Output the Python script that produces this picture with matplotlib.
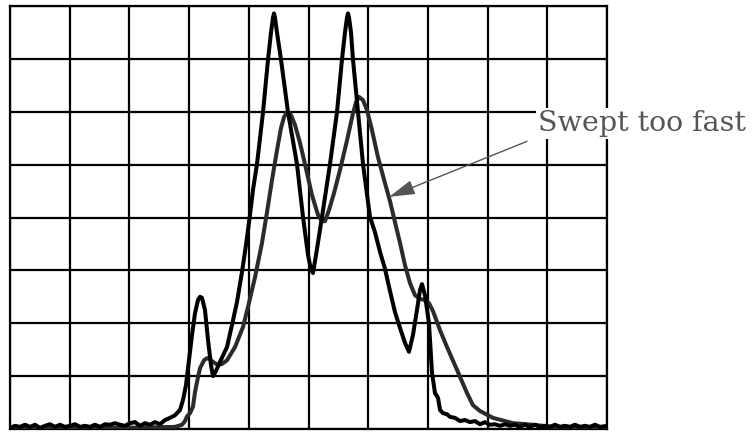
import matplotlib
matplotlib.use("Agg")
import matplotlib.pyplot as plt

# Graticule: 10 horizontal divisions, 8 vertical divisions
n_xdiv = 10
n_ydiv = 8

# Normal sweep trace (black)
normal_x = [0.000, 0.084, 0.168, 0.251, 0.335, 0.419, 0.503, 0.586, 0.670, 0.754,
            0.838, 0.921, 1.005, 1.089, 1.173, 1.256, 1.340, 1.424, 1.508, 1.591,
            1.675, 1.759, 1.843, 1.926, 2.010, 2.094, 2.178, 2.261, 2.345, 2.429,
            2.513, 2.596, 2.680, 2.764, 2.848, 2.898, 2.948, 2.998, 3.049, 3.099,
            3.149, 3.183, 3.216, 3.266, 3.317, 3.367, 3.400, 3.451, 3.518, 3.635,
            3.719, 3.802, 3.886, 3.953, 4.020, 4.070, 4.137, 4.238, 4.322, 4.372,
            4.405, 4.422, 4.439, 4.472, 4.539, 4.657, 4.807, 4.908, 4.992, 5.042,
            5.075, 5.126, 5.226, 5.360, 5.477, 5.561, 5.611, 5.645, 5.662, 5.679,
            5.712, 5.745, 5.829, 5.913, 6.030, 6.114, 6.198, 6.281, 6.365,
            6.449, 6.533, 6.616, 6.683, 6.750, 6.817, 6.868, 6.901, 6.951, 7.018,
            7.069, 7.119, 7.169, 7.203, 7.253, 7.320, 7.370, 7.454, 7.538, 7.621,
            7.705, 7.789, 7.873, 7.956, 8.040, 8.124, 8.208, 8.291, 8.375, 8.459,
            8.543, 8.626, 8.710, 8.794, 8.878, 8.961, 9.045, 9.129, 9.213, 9.296,
            9.380, 9.464, 9.548, 9.631, 9.715, 9.799, 9.883, 10.000]
normal_y = [0.02, 0.06, 0.04, 0.08, 0.04, 0.08, 0.02, 0.06, 0.09, 0.04,
            0.08, 0.04, 0.06, 0.09, 0.04, 0.06, 0.04, 0.08, 0.04, 0.09,
            0.08, 0.11, 0.08, 0.06, 0.11, 0.13, 0.06, 0.11, 0.08, 0.13,
            0.09, 0.17, 0.21, 0.26, 0.36, 0.55, 0.83, 1.30, 1.78, 2.19,
            2.44, 2.50, 2.48, 2.25, 1.68, 1.21, 1.00, 1.10, 1.27, 1.55,
            1.97, 2.40, 2.97, 3.48, 4.05, 4.52, 5.01, 5.99, 6.99, 7.50,
            7.78, 7.86, 7.78, 7.50, 6.99, 5.99, 5.01, 4.01, 3.29, 3.01,
            2.95, 3.29, 4.01, 5.01, 5.99, 6.99, 7.50, 7.78, 7.86, 7.78,
            7.50, 6.99, 5.99, 5.01, 4.01, 3.72, 3.35, 3.03, 2.61,
            2.21, 1.91, 1.63, 1.46, 1.78, 2.25, 2.63, 2.74, 2.53, 2.00,
            1.06, 0.68, 0.59, 0.36, 0.30, 0.28, 0.23, 0.21, 0.15, 0.17,
            0.13, 0.15, 0.09, 0.13, 0.08, 0.09, 0.06, 0.09, 0.06, 0.08,
            0.04, 0.08, 0.04, 0.08, 0.04, 0.06, 0.04, 0.08, 0.04, 0.06,
            0.04, 0.08, 0.04, 0.06, 0.04, 0.08, 0.04, 0.06]

# Swept-too-fast trace (dark gray)
fast_x = [0.000, 1.508, 2.345, 2.764, 2.881, 2.931, 2.965, 3.015, 3.065, 3.099,
          3.149, 3.183, 3.250, 3.300, 3.350, 3.400, 3.484, 3.551, 3.635, 3.769,
          3.903, 3.987, 4.104, 4.221, 4.305, 4.389, 4.472, 4.539, 4.590, 4.640,
          4.707, 4.774, 4.858, 4.941, 5.059, 5.159, 5.226, 5.276, 5.343, 5.427,
          5.528, 5.645, 5.745, 5.796, 5.846, 5.913, 5.980, 6.064, 6.164, 6.281,
          6.365, 6.449, 6.533, 6.616, 6.700, 6.784, 6.868, 6.951, 7.018, 7.085,
          7.203, 7.320, 7.487, 7.655, 7.755, 7.873, 8.090, 8.425, 8.760, 9.095,
          9.548, 10.000]
fast_y = [0.02, 0.02, 0.03, 0.04, 0.08, 0.15, 0.24, 0.30, 0.42, 0.70,
          0.98, 1.15, 1.30, 1.34, 1.32, 1.27, 1.21, 1.23, 1.30, 1.55,
          1.93, 2.31, 2.87, 3.52, 4.10, 4.71, 5.27, 5.69, 5.90, 5.99,
          5.94, 5.75, 5.41, 5.01, 4.42, 4.05, 3.93, 3.93, 4.14, 4.46,
          4.90, 5.46, 5.97, 6.18, 6.28, 6.22, 6.03, 5.65, 5.14, 4.65,
          4.31, 3.91, 3.52, 3.10, 2.76, 2.53, 2.46, 2.44, 2.38, 2.23,
          1.87, 1.55, 1.12, 0.68, 0.45, 0.34, 0.21, 0.11, 0.08, 0.04,
          0.04, 0.02]

label_text = "Swept too fast"

W, H = 752, 432
fig = plt.figure(figsize=(W / 100, H / 100), dpi=100)
ax = fig.add_axes([10 / W, 3 / H, 597 / W, 423 / H])
ax.set_xlim(0, n_xdiv)
ax.set_ylim(0, n_ydiv)
ax.set_xticks(range(n_xdiv + 1))
ax.set_yticks(range(n_ydiv + 1))
ax.tick_params(length=0, labelbottom=False, labelleft=False)
ax.grid(True, color="black", linewidth=1.6)
ax.set_axisbelow(True)
for s in ax.spines.values():
    s.set_linewidth(1.6)
    s.set_color("black")

ax.plot(fast_x, fast_y, color="#2b2b2b", linewidth=2.9, solid_joinstyle="round",
        solid_capstyle="round", zorder=3)
ax.plot(normal_x, normal_y, color="black", linewidth=2.9, solid_joinstyle="round",
        solid_capstyle="round", zorder=4)

# Label with white background, partly outside the graticule
ax.text(8.84, 5.78, label_text, fontsize=20.5, family="DejaVu Serif", color="#555555",
        ha="left", va="center", clip_on=False, zorder=6,
        bbox=dict(facecolor="white", edgecolor="none", pad=1.5))
ax.annotate("", xy=(6.35, 4.39), xytext=(8.66, 5.44),
            arrowprops=dict(arrowstyle="-|>,head_length=1.6,head_width=0.45",
                            color="#555555", lw=1.0, shrinkA=0, shrinkB=0,
                            mutation_scale=10),
            annotation_clip=False, zorder=5)

fig.savefig("out.png", dpi=100)
